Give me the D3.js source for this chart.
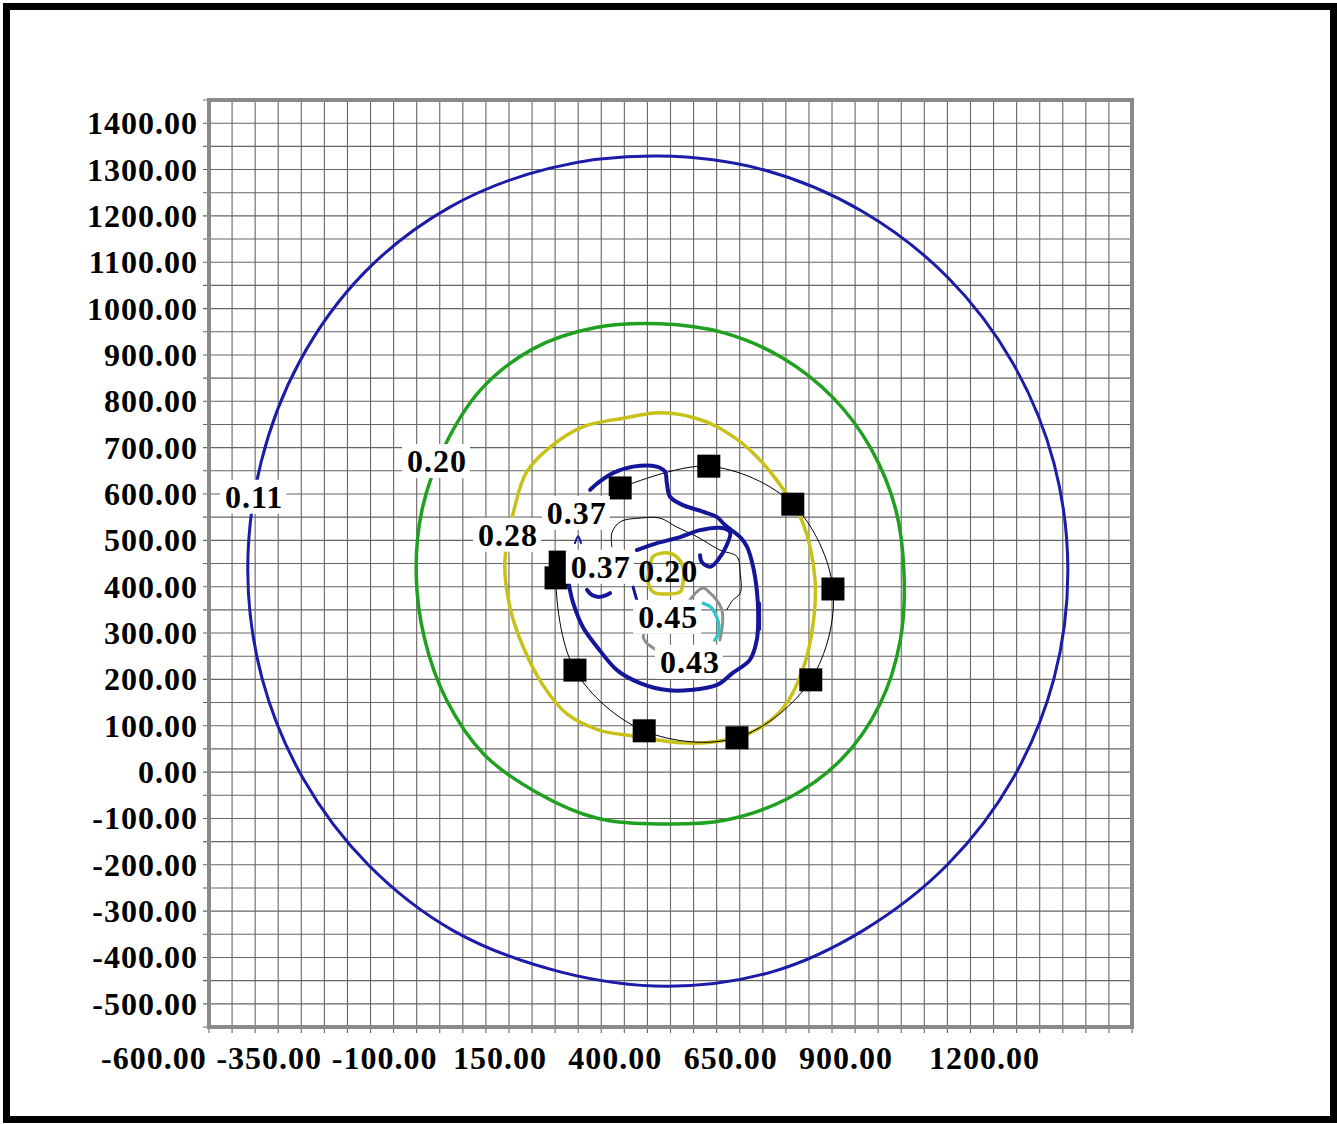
<!DOCTYPE html>
<html>
<head>
<meta charset="utf-8">
<script src="https://cdn.jsdelivr.net/npm/d3@7"></script>
<style>
  body { margin: 0; background: #fff; }
  svg { display: block; }
  text { font-family: "Liberation Serif", "Times New Roman", serif; font-weight: bold; fill: #000; letter-spacing: 1px; }
</style>
</head>
<body>
<div id="chart"></div>
<script>
// tick labels
var xTickLabels = [-600, -350, -100, 150, 400, 650, 900, 1200];
var yTickLabels = [1400, 1300, 1200, 1100, 1000, 900, 800, 700, 600, 500, 400, 300, 200, 100, 0, -100, -200, -300, -400, -500];

// contour lines (x, y in metres)
var contour011 = [[473,1329],[703,1299],[917,1209],[1101,1067],[1242,882],[1331,666],[1361,434],[1331,202],[1242,-14],[1101,-199],[917,-342],[720,-431],[495,-462],[261,-431],[29,-342],[-156,-199],[-296,-14],[-385,202],[-416,434],[-387,669],[-303,887],[-164,1077],[22,1219],[239,1303]];
var contour020 = [[477,967],[614,948],[742,894],[851,809],[935,697],[988,567],[1006,427],[998,285],[954,147],[870,27],[752,-58],[617,-104],[477,-112],[339,-99],[210,-44],[96,38],[15,155],[-33,288],[-51,427],[-38,568],[10,702],[88,824],[202,913],[338,959]];
var contour028 = [[477,775],[553,764],[601,745],[672,695],[744,611],[787,537],[813,417],[809,320],[787,222],[744,138],[672,84],[601,66],[527,63],[419,78],[347,90],[275,126],[224,187],[180,272],[152,356],[141,453],[163,574],[188,647],[239,701],[310,745],[401,764]];
var contour037a = [[326,609],[347,627],[375,645],[419,659],[470,659],[488,648],[492,624],[499,594],[527,576],[570,562],[601,550],[618,533],[651,507],[666,486],[679,443],[687,393],[690,343],[687,285],[672,242],[635,214],[601,188],[542,177],[492,177],[434,192],[384,220],[341,270],[310,313],[289,365],[282,393],[278,419]];
var contour037b = [[427,479],[471,494],[521,507],[564,522],[607,527],[629,518],[622,490],[603,458],[586,443],[568,453],[564,468]];
var contour037c = [[319,393],[330,382],[347,378],[369,386]];
var contour037d = [[419,399],[427,371]];
var contour037e = [[694,365],[694,307]];
var contour037f = [[293,494],[300,509],[306,494]];
var contourThin = [[373,486],[373,516],[391,540],[434,548],[477,548],[513,529],[557,508],[607,479],[644,465],[651,430],[651,386],[635,371],[622,350]];
var contour020c = [[456,443],[462,465],[492,473],[513,465],[527,443],[527,408],[521,389],[492,384],[462,389],[451,414]];
var contour043 = [[470,263],[448,279],[441,292],[448,307],[470,314],[506,324],[528,350],[542,371],[557,389],[571,397],[586,386],[600,371],[611,350],[613,322],[607,285]];
var contour045 = [[571,364],[586,357],[596,343],[604,321],[604,299],[596,285]];

// receptors (black squares) and site boundary through them
var receptors = [[391,613],[583,660],[765,578],[852,395],[804,199],[644,74],[443,89],[293,220],[252,419],[261,453]];

// contour value labels
var contourLabels = [
  { t: "0.11", x: -402, y: 594 },
  { t: "0.20", x: -6,   y: 671 },
  { t: "0.28", x: 148,  y: 512 },
  { t: "0.37", x: 297,  y: 559 },
  { t: "0.37", x: 349,  y: 443 },
  { t: "0.45", x: 495,  y: 335 },
  { t: "0.43", x: 542,  y: 238 }
];
var centerLabel = { t: "0.20", x: 495, y: 434 };

function init() {
  var W = 1337, H = 1124;
  var left = 209, top = 100, pw = 923, ph = 927;
  var fs = 32;

  var svg = d3.select("#chart").append("svg").attr("width", W).attr("height", H);
  svg.append("rect").attr("width", W).attr("height", H).attr("fill", "#fff");

  var x = d3.scaleLinear().domain([-500, 1500]).range([left, left + pw]);
  var y = d3.scaleLinear().domain([-550, 1450]).range([top + ph, top]);

  // grid
  var gx = d3.range(-500, 1501, 50), gy = d3.range(-550, 1451, 50);
  var grid = svg.append("g").attr("stroke", "#666").attr("stroke-width", 1.1);
  grid.selectAll(".v").data(gx).join("line")
    .attr("x1", d => x(d)).attr("x2", d => x(d))
    .attr("y1", top).attr("y2", top + ph + 6);
  grid.selectAll(".h").data(gy).join("line")
    .attr("y1", d => y(d)).attr("y2", d => y(d))
    .attr("x1", left - 6).attr("x2", left + pw);

  // frame
  svg.append("rect").attr("x", left).attr("y", top).attr("width", pw).attr("height", ph)
    .attr("fill", "none").attr("stroke", "#8a8a8a").attr("stroke-width", 4);

  // axis labels
  svg.append("g").selectAll("text").data(yTickLabels).join("text")
    .attr("x", 198).attr("y", d => y(d)).attr("text-anchor", "end")
    .attr("dominant-baseline", "central").attr("font-size", fs)
    .text(d => d.toFixed(2));
  svg.append("g").selectAll("text").data(xTickLabels).join("text")
    .attr("x", d => x(d) - 9).attr("y", 1058).attr("text-anchor", "middle")
    .attr("dominant-baseline", "central").attr("font-size", fs)
    .text(d => d.toFixed(2));

  var closed = d3.line().x(d => x(d[0])).y(d => y(d[1])).curve(d3.curveCatmullRomClosed);
  var open = d3.line().x(d => x(d[0])).y(d => y(d[1])).curve(d3.curveCatmullRom);

  function draw(gen, data, color, width, dash) {
    svg.append("path").attr("d", gen(data)).attr("fill", "none")
      .attr("stroke", color).attr("stroke-width", width)
      .attr("stroke-linejoin", "round").attr("stroke-linecap", "round")
      .attr("stroke-dasharray", dash || null);
  }

  draw(closed, contour011, "#1c1ca8", 3);
  draw(closed, contour020, "#20a020", 3.5);
  draw(closed, contour028, "#c8c218", 3.5);
  draw(open, receptors, "#000", 1);
  draw(open, contourThin, "#000", 1);
  draw(open, contour037a, "#15159a", 4);
  draw(open, contour037b, "#15159a", 4);
  draw(open, contour037c, "#15159a", 4);
  draw(open, contour037d, "#15159a", 3);
  draw(open, contour037e, "#15159a", 2);
  draw(open, contour037f, "#15159a", 2);
  draw(open, contour043, "#8e8e8e", 3, "4 1.5");
  draw(open, contour045, "#34c4cc", 3.5, "4 1.5");

  // receptors
  svg.append("g").selectAll("rect").data(receptors).join("rect")
    .attr("x", d => x(d[0]) - 11.5).attr("y", d => y(d[1]) - 11.5)
    .attr("width", 23).attr("height", 23).attr("fill", "#000");

  // labels with white boxes
  var lg = svg.append("g");
  contourLabels.forEach(function (d) {
    var g = lg.append("g");
    var t = g.append("text").attr("x", x(d.x)).attr("y", y(d.y))
      .attr("text-anchor", "middle").attr("dominant-baseline", "central")
      .attr("font-size", fs).text(d.t);
    var b = t.node().getBBox();
    g.insert("rect", "text").attr("x", b.x - 5).attr("y", b.y + 1)
      .attr("width", b.width + 8).attr("height", b.height - 2).attr("fill", "#fff");
  });

  draw(closed, contour020c, "#c8c218", 3.5);
  svg.append("text").attr("x", x(centerLabel.x)).attr("y", y(centerLabel.y))
    .attr("text-anchor", "middle").attr("dominant-baseline", "central")
    .attr("font-size", fs).text(centerLabel.t);

  // outer border
  svg.append("rect").attr("x", 6.5).attr("y", 6.5).attr("width", 1327).attr("height", 1113)
    .attr("fill", "none").attr("stroke", "#000").attr("stroke-width", 7);
}

window.onload = init;
</script>
</body>
</html>
